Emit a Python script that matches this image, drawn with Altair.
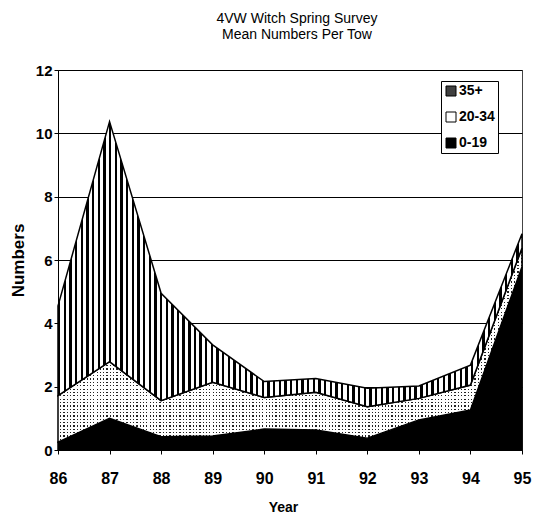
import altair as alt
import pandas as pd

years = [86, 87, 88, 89, 90, 91, 92, 93, 94, 95]
series_names = ["0-19", "20-34", "35+"]
n_0_19 = [0.25, 1.00, 0.42, 0.44, 0.66, 0.63, 0.37, 0.95, 1.26, 5.79]
n_20_34 = [1.47, 1.79, 1.14, 1.70, 1.00, 1.19, 1.00, 0.68, 0.79, 0.59]
n_35p = [2.83, 7.58, 3.39, 1.18, 0.50, 0.44, 0.58, 0.39, 0.63, 0.45]
y_ticks = [0, 2, 4, 6, 8, 10, 12]

FONT = "Liberation Sans, Arial, sans-serif"

rows = []
for i, yr in enumerate(years):
    base = 0.0
    for name, vals in zip(series_names, [n_0_19, n_20_34, n_35p]):
        rows.append({"year": yr, "series": name, "y0": base, "y1": base + vals[i]})
        base += vals[i]
df = pd.DataFrame(rows)


def stripes(n, frac, on, off, horizontal=False):
    st = []
    for i in range(n):
        s = i / n
        w = frac / n
        st += [
            {"offset": s, "color": on},
            {"offset": s + w, "color": on},
            {"offset": s + w, "color": off},
            {"offset": (i + 1) / n, "color": off},
        ]
    if horizontal:
        return {"gradient": "linear", "x1": 0, "x2": 0, "y1": 0, "y2": 1, "stops": st}
    return {"gradient": "linear", "x1": 0, "x2": 1, "y1": 0, "y2": 0, "stops": st}


stripe_fill = stripes(82, 0.42, "black", "white")
# dotted texture for 20-34: horizontal dark lines masked by vertical white bars
dots_lines = stripes(58, 0.38, "#222", "white", horizontal=True)
dots_mask = stripes(140, 0.62, "white", "rgba(255,255,255,0)")

x_enc = alt.X(
    "year:Q",
    scale=alt.Scale(domain=[86, 95], nice=False, zero=False),
    axis=alt.Axis(
        values=years, format="d", title="Year", grid=False,
        labelFont=FONT, labelFontSize=16, labelFontWeight="bold", labelColor="black",
        titleFont=FONT, titleFontSize=14, titleFontWeight="bold", titleColor="black",
        tickColor="black", tickSize=4, labelPadding=16, titlePadding=14,
        domainColor="black", labelFlush=False, titleX=225,
    ),
)
y_scale = alt.Scale(domain=[0, 12], nice=False)
y_axis = alt.Axis(
    values=y_ticks, title="Numbers", grid=True, gridColor="black", gridWidth=1,
    labelFont=FONT, labelFontSize=15, labelFontWeight="bold", labelColor="black",
    titleFont=FONT, titleFontSize=17, titleFontWeight="bold", titleColor="black",
    tickColor="black", tickSize=4, labelPadding=2, titlePadding=8,
    domainColor="black",
)


def area(name, fill, stroke=True):
    kw = {"stroke": "black", "strokeWidth": 1.5} if stroke else {"strokeWidth": 0}
    return (
        alt.Chart(df)
        .transform_filter(alt.datum.series == name)
        .mark_area(fill=fill, interpolate="linear", opacity=1, **kw)
        .encode(x=x_enc, y=alt.Y("y1:Q", scale=y_scale, axis=y_axis), y2="y0:Q")
    )


layers = [
    area("0-19", "black"),
    area("20-34", dots_lines, stroke=False),
    area("20-34", dots_mask),
    area("35+", stripe_fill),
]

legend_df = pd.DataFrame({"series": ["35+", "20-34", "0-19"]})
legend_layer = (
    alt.Chart(legend_df)
    .transform_filter("false")
    .mark_square()
    .encode(
        color=alt.Color(
            "series:N",
            scale=alt.Scale(domain=["35+", "20-34", "0-19"], range=["#404040", "white", "black"]),
            legend=alt.Legend(
                title=None, orient="none", legendX=383, legendY=11,
                fillColor="white", strokeColor="black", padding=3,
                symbolType="square", symbolSize=100, symbolStrokeColor="black",
                symbolStrokeWidth=1, symbolOpacity=1,
                labelFont=FONT, labelFontSize=14, labelFontWeight="bold", labelColor="black",
                rowPadding=12, labelOffset=1,
            ),
        )
    )
)

chart = (
    alt.layer(*layers, legend_layer)
    .properties(
        width=464, height=380,
        autosize=alt.AutoSizeParams(type="none"),
        padding={"left": 58, "top": 70, "right": 16, "bottom": 70},
        title=alt.TitleParams(
            text=["4VW Witch Spring Survey", "Mean Numbers Per Tow"],
            font=FONT, fontSize=14, fontWeight="normal", color="black",
            anchor="middle", offset=21, lineHeight=16, dx=7,
        ),
        background="white",
    )
    .configure_view(stroke="#444", strokeWidth=1)
)

chart.save("out.html", embed_options={"renderer": "svg", "actions": False})
